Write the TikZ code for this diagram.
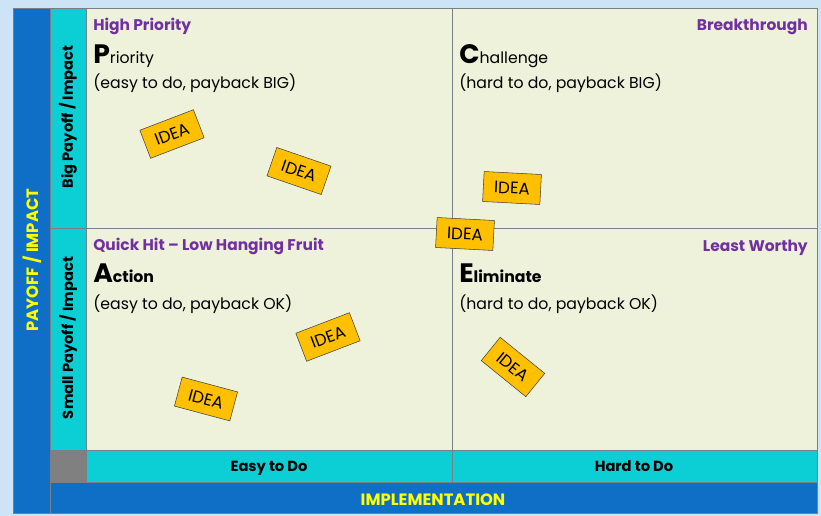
\documentclass[tikz,border=0pt]{standalone}
\usepackage{fontspec}
\setmainfont{Poppins}
\usepackage{tikz}

\definecolor{pagebg}{RGB}{205,228,247}
\definecolor{darkband}{RGB}{15,110,198}
\definecolor{cyanband}{RGB}{12,207,214}
\definecolor{cellfill}{RGB}{238,242,219}
\definecolor{cornergray}{RGB}{128,128,128}
\definecolor{rulegray}{RGB}{120,128,132}
\definecolor{headpurple}{RGB}{112,48,160}
\definecolor{axisyellow}{RGB}{255,255,0}
\definecolor{ideaorange}{RGB}{255,192,0}

\newcommand{\bigL}[1]{{\fontsize{20}{20}\selectfont\bfseries #1}}

\begin{document}
\begin{tikzpicture}[x=0.75pt, y=-0.75pt]
    \tikzstyle{idea} = [rectangle, draw=black!75, fill=ideaorange, inner sep=0pt, minimum width=43pt, minimum height=22.5pt, font=\fontsize{12.5}{12.5}\selectfont]
    \tikzstyle{head} = [inner sep=0pt, text=headpurple, font=\bfseries\fontsize{11.6}{13}\selectfont]
    \tikzstyle{quad} = [inner sep=0pt, font=\fontsize{11.8}{13}\selectfont]
    \tikzstyle{axis} = [inner sep=0pt, font=\bfseries\fontsize{11}{12}\selectfont]
    \tikzstyle{mainaxis} = [inner sep=0pt, text=axisyellow, font=\bfseries\fontsize{12.3}{14}\selectfont]

    % Background
    \fill[pagebg] (0,0) rectangle (821,516);

    % Bands
    \filldraw[fill=darkband, draw=rulegray] (13,8) rectangle (50,513);
    \filldraw[fill=darkband, draw=rulegray] (50,482) rectangle (817,513);
    \filldraw[fill=cyanband, draw=rulegray] (50,8) rectangle (86,450);
    \filldraw[fill=cyanband, draw=rulegray] (86,450) rectangle (817,482);
    \filldraw[fill=cornergray, draw=rulegray] (50,450) rectangle (86,482);
    \filldraw[fill=cellfill, draw=rulegray] (86,8) rectangle (817,450);

    % Grid
    \draw[rulegray] (452,8) -- (452,482);
    \draw[rulegray] (50,228) -- (817,228);

    % Axis labels
    \node[mainaxis, rotate=90] (payoff) at (32,260) {PAYOFF / IMPACT};
    \node[mainaxis, anchor=base] (impl) at (433,505) {IMPLEMENTATION};
    \node[axis, rotate=90] (big) at (68,117) {Big Payoff / Impact};
    \node[axis, rotate=90] (small) at (68,338) {Small Payoff / Impact};
    \node[axis, anchor=base] (easy) at (269,471) {Easy to Do};
    \node[axis, anchor=base] (hard) at (634,471) {Hard to Do};

    % Quadrants
    \node[head, anchor=base west] (hp) at (93,31) {High Priority};
    \node[quad, anchor=base west] (prio) at (93,64) {\bigL{P}riority};
    \node[quad, anchor=base west] (prionote) at (93,89) {(easy to do, payback BIG)};
    \node[head, anchor=base east] (bt) at (808,31) {Breakthrough};
    \node[quad, anchor=base west] (chal) at (459,64) {\bigL{C}hallenge};
    \node[quad, anchor=base west] (chalnote) at (459,89) {(hard to do, payback BIG)};
    \node[head, anchor=base west] (qh) at (93,251) {Quick Hit -- Low Hanging Fruit};
    \node[quad, anchor=base west] (act) at (93,283) {\bigL{A}{\bfseries ction}};
    \node[quad, anchor=base west] (actnote) at (93,310) {(easy to do, payback OK)};
    \node[head, anchor=base east] (lw) at (808,252) {Least Worthy};
    \node[quad, anchor=base west] (elim) at (459,283) {\bigL{E}{\bfseries liminate}};
    \node[quad, anchor=base west] (elimnote) at (459,310) {(hard to do, payback OK)};

    % Ideas
    \node[idea, rotate=21] (i1) at (172,134) {IDEA};
    \node[idea, rotate=-19] (i2) at (299,171) {IDEA};
    \node[idea, rotate=-3] (i3) at (512,188) {IDEA};
    \node[idea, rotate=-3] (i4) at (465,234) {IDEA};
    \node[idea, rotate=21] (i5) at (328,337) {IDEA};
    \node[idea, rotate=-15] (i6) at (206,399) {IDEA};
    \node[idea, rotate=-39] (i7) at (513,367) {IDEA};

\end{tikzpicture}
\end{document}
